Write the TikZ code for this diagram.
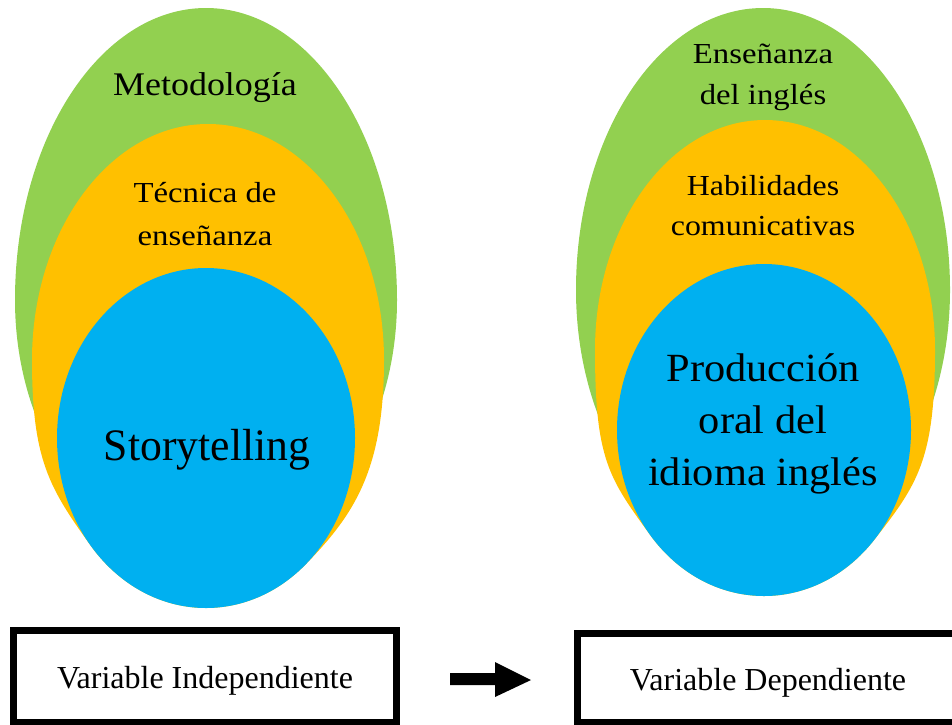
\documentclass[tikz,border=0pt]{standalone}
\usepackage{fontspec}
\setmainfont{Liberation Serif}
\definecolor{cgreen}{HTML}{92D050}
\definecolor{corange}{HTML}{FFC000}
\definecolor{cblue}{HTML}{00B0F0}
\newcommand{\tx}[3]{\scalebox{#2}[1]{\fontsize{#1}{#1}\selectfont #3}}
% egg: colour, cx, cy, rx, ry top, ry bottom
\newcommand{\egg}[6]{\fill[#1] (#2-#4,#3) arc[start angle=180, end angle=0, x radius=#4pt, y radius=#5pt] arc[start angle=0, end angle=-180, x radius=#4pt, y radius=#6pt] -- cycle;}
\begin{document}
\begin{tikzpicture}[x=1pt,y=-1pt,
  lbl/.style={inner sep=0pt, anchor=base},
  varbox/.style={draw=black, line width=7pt, fill=white, inner sep=0pt}]
\useasboundingbox (0,0) rectangle (952,724);
% ---------- left
\egg{cgreen}{206}{300}{191}{292}{255}
\fill[corange] (32,360) arc[start angle=180, end angle=0, x radius=176pt, y radius=236pt]
  .. controls (384,470) and (354,515) .. (305.04,565)
  arc[start angle=-48.34, end angle=-141.0, x radius=149pt, y radius=170pt]
  .. controls (49.5,488) and (32,460) .. (32,360) -- cycle;
\fill[cblue] (206,438) ellipse [x radius=149pt, y radius=170pt];
% ---------- right
\egg{cgreen}{763}{290}{187}{282}{265}
\fill[corange] (595,350) arc[start angle=180, end angle=0, x radius=170pt, y radius=230pt]
  .. controls (935,460) and (917.2,484.9) .. (874.1,540)
  arc[start angle=-41.5, end angle=-140.76, x radius=147pt, y radius=166pt]
  .. controls (609.1,478.3) and (595,460) .. (595,350) -- cycle;
\fill[cblue] (764,430) ellipse [x radius=147pt, y radius=166pt];
% texts left
\node[lbl] (met) at (205,95) {\tx{33}{1.09}{Metodología}};
\node[lbl] (tec1) at (205,202) {\tx{29}{1.13}{Técnica de}};
\node[lbl] (tec2) at (205,245) {\tx{29}{1.13}{enseñanza}};
\node[lbl] (sto) at (207,460) {\tx{45}{0.97}{Storytelling}};
% texts right
\node[lbl] (ens1) at (763,63) {\tx{29}{1.13}{Enseñanza}};
\node[lbl] (ens2) at (763,104) {\tx{29}{1.13}{del inglés}};
\node[lbl] (hab1) at (763,195) {\tx{29}{1.1}{Habilidades}};
\node[lbl] (hab2) at (763,235) {\tx{29}{1.1}{comunicativas}};
\node[lbl] (pro1) at (763,381) {\tx{40}{1.06}{Producción}};
\node[lbl] (pro2) at (763,433) {\tx{40}{1.06}{oral del}};
\node[lbl] (pro3) at (763,485) {\tx{40}{1.06}{idioma inglés}};
% boxes
\node[varbox, minimum width=383pt, minimum height=92pt] (vi) at (204.5,676) {};
\node[varbox, minimum width=380pt, minimum height=89pt] (vd) at (767,677.5) {};
\node[lbl] (vit) at (205,688) {\tx{32}{1}{Variable Independiente}};
\node[lbl] (vdt) at (768,690) {\tx{32}{1}{Variable Dependiente}};
% arrow
\fill[black] (450,673) -- (495,673) -- (495,662) -- (531,680) -- (495,697) -- (495,685) -- (450,685) -- cycle;
\end{tikzpicture}
\end{document}
